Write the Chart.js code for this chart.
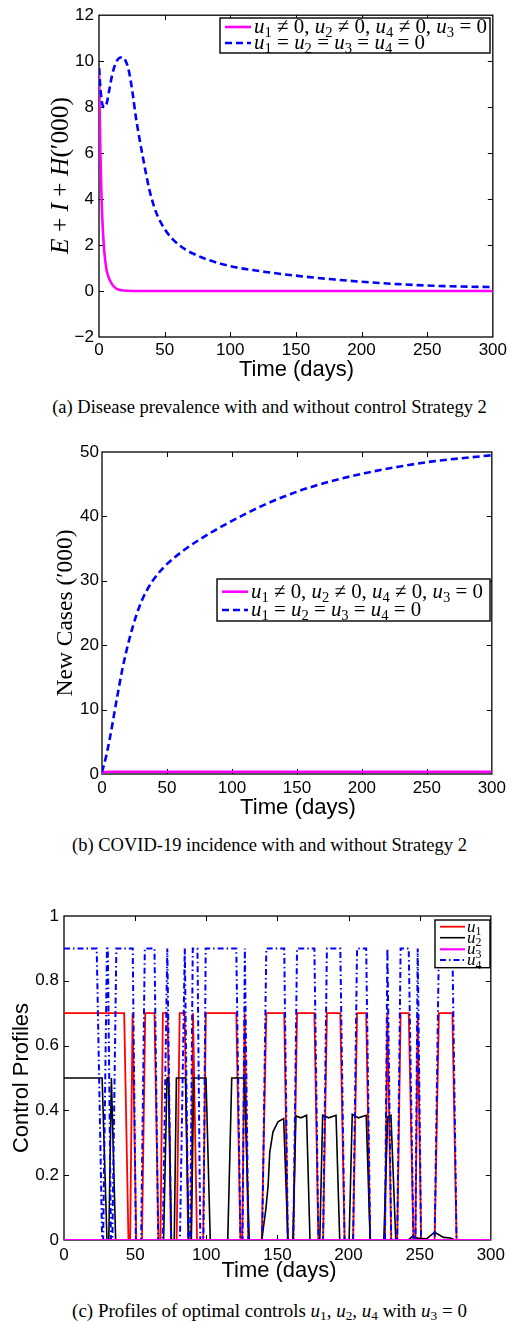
<!DOCTYPE html>
<html><head><meta charset="utf-8">
<script src="https://cdn.jsdelivr.net/npm/chart.js@4.4.1/dist/chart.umd.min.js"></script>
<style>
html,body{margin:0;padding:0;background:#fff;}
body{width:510px;height:1322px;position:relative;overflow:hidden;}
canvas{position:absolute;left:0;}
.cap{position:absolute;white-space:nowrap;font-family:"Liberation Serif","Times New Roman",Times,serif;color:#000;line-height:1;}
.cap sub{font-size:70%;vertical-align:-0.25em;line-height:0;}
</style></head><body>
<canvas id="c1" width="510" height="390" style="top:0px"></canvas>
<canvas id="c2" width="510" height="410" style="top:420px"></canvas>
<canvas id="c3" width="510" height="430" style="top:860px"></canvas>
<div class="cap" id="capA">(a) Disease prevalence with and without control Strategy 2</div>
<div class="cap" id="capB">(b) COVID-19 incidence with and without Strategy 2</div>
<div class="cap" id="capC">(c) Profiles of optimal controls <i>u</i><sub>1</sub>, <i>u</i><sub>2</sub>, <i>u</i><sub>4</sub> with <i>u</i><sub>3</sub> = 0</div>
<script>
// ---------------- DATA ----------------
// (a) prevalence E+I+H ('000)
const tA_ctrl  = [0,1,2,3,4,5,6,8,10,12,14,17,22,30,60,100,150,200,250,300];
const prevCtrl = [9.7,6.2,3.9,2.6,1.75,1.2,0.85,0.5,0.29,0.16,0.08,0.03,0.01,0,0,0,0,0,0,0];
const tA_none  = [0,1,2,3,4.5,6,8,10,12,14,16,18,20,22,24,26,28,30,33,36,38,40,43,46,50,55,60,66,72,82,102,127,153,178,203,228,254,300];
const prevNone = [9.7,8.9,8.3,8.05,8.0,8.2,8.8,9.4,9.8,10.05,10.15,10.17,10.05,9.75,9.2,8.45,7.6,6.9,5.95,5.05,4.5,4.05,3.5,3.1,2.7,2.32,2.05,1.8,1.62,1.38,1.06,0.83,0.65,0.51,0.39,0.30,0.23,0.17];
// (b) new cases ('000)
const tB_ctrl   = [0,2,5,10,50,100,150,200,250,300];
const casesCtrl = [0.2,0.3,0.34,0.35,0.36,0.36,0.36,0.36,0.36,0.36];
const tB_none   = [0,3,6,11,16,21,26,31,39,49,62,75,87.5,100,126,151,177,202,228,253,300];
const casesNone = [0.3,2.6,5.5,11.2,16.6,20.9,24.4,27.1,30.0,32.4,34.6,36.4,37.9,39.3,41.9,43.9,45.5,46.7,47.7,48.5,49.5];
// (c) control profiles [t, value]
const u1Pts = [[0,0.7],[42.3,0.7],[45.3,0],[46.5,0],[48.2,0.7],[50.8,0],[54.8,0],[57.1,0.7],[63.6,0.7],[66.4,0],[67.8,0],[69.5,0.7],[72.8,0.7],[75.2,0],[79.2,0],[81.3,0.7],[84.8,0.7],[87.3,0],[89.3,0],[90.7,0.7],[93.5,0],[97.8,0],[99.7,0.7],[121.1,0.7],[124,0],[125.3,0],[127,0.7],[129.5,0],[139,0],[142.2,0.7],[154.8,0.7],[157.3,0],[161.2,0],[163.8,0.7],[176,0.7],[178.8,0],[182.1,0],[184.8,0.7],[194.2,0.7],[197.2,0],[203.2,0],[206,0.7],[212.4,0.7],[215.2,0],[225.6,0],[227.3,0.7],[230,0],[234.2,0],[236.6,0.7],[242.3,0.7],[245.6,0],[247,0],[248.6,0.7],[251,0],[260.5,0],[263.5,0.7],[273,0.7],[275.9,0],[300,0]];
const u2Pts = [[0,0.5],[26.8,0.5],[30.2,0],[31.5,0],[33.3,0.5],[36.3,0],[70,0],[72.4,0.5],[73.5,0.5],[75.5,0],[77.5,0],[79,0.5],[85.4,0.5],[87.7,0],[89.5,0],[91.2,0.5],[99.8,0.5],[102.8,0],[115.1,0],[117.9,0.5],[126.7,0.5],[130.2,0],[139,0],[142,0.1],[143.5,0.17],[144.6,0.27],[146.9,0.334],[150.4,0.365],[154.4,0.375],[157.4,0],[160.9,0],[163,0.383],[166.5,0.377],[170.5,0.385],[172.9,0],[179.8,0],[181.8,0.385],[186,0.377],[191.2,0.385],[193.8,0],[200.4,0],[202.6,0.388],[207,0.377],[212.4,0.385],[215.2,0],[224.8,0],[227.5,0.38],[229.8,0.385],[233.2,0],[242,0],[245.3,0.013],[248.7,0.005],[255,0.004],[260.5,0.024],[266.8,0.008],[271.4,0.006],[275,0],[300,0]];
const u3Pts = [[0,0],[300,0]];
const u4Pts = [[0,0.9],[23,0.9],[26.8,0],[27.5,0],[30.2,0.9],[30.8,0.9],[33,0],[34,0],[36.8,0.9],[48.3,0.9],[50.5,0],[54.2,0],[56.8,0.9],[63.6,0.9],[66.2,0],[69.4,0],[72.6,0.9],[75.3,0],[81.5,0],[84.9,0.9],[87.4,0],[88.7,0],[90.5,0.9],[93.8,0.9],[95.8,0],[98,0],[99.6,0.9],[121.1,0.9],[124,0],[125.5,0],[127.1,0.9],[129.6,0],[139.3,0],[142.2,0.9],[154.8,0.9],[157.3,0],[161.2,0],[163.8,0.9],[176,0.9],[178.8,0],[182.1,0],[184.8,0.9],[194.2,0.9],[197.2,0],[203.2,0],[206,0.9],[212.4,0.9],[215.2,0],[225.6,0],[227.3,0.9],[230,0],[234.2,0],[236.6,0.9],[242.3,0.9],[245.6,0],[247,0],[248.6,0.9],[251,0],[260.5,0],[263.5,0.9],[273,0.9],[275.9,0],[300,0]];
// labels
const seriesAB = ['u1 ≠ 0, u2 ≠ 0, u4 ≠ 0, u3 = 0', 'u1 = u2 = u3 = u4 = 0'];
const seriesC  = ['u1','u2','u3','u4'];
const xTitle = 'Time (days)';
const yTitleA = 'E + I + H(′000)';
const yTitleB = 'New Cases (′000)';
const yTitleC = 'Control Profiles';
const xTicks = {min:0, max:300, step:50};
const yTicksA = {min:-2, max:12, step:2};
const yTicksB = {min:0, max:50, step:10};
const yTicksC = {min:0, max:1, step:0.2};

// ---------------- HELPERS ----------------
const SANS = '"Liberation Sans", Arial, Helvetica, sans-serif';
const SERIF = '"Liberation Serif", "Times New Roman", Times, serif';
Chart.defaults.font.family = SANS;
Chart.defaults.color = '#000';

const pts = (ts, vs) => ts.map((t,i) => ({x:t, y:vs[i]}));
const pairs = a => a.map(([t,v]) => ({x:t, y:v}));

function parseMath(s, math) {
  if (!math) return [{t:s}];
  const parts = []; let buf = '';
  const flush = () => { if (buf) { parts.push({t:buf}); buf=''; } };
  for (let i=0;i<s.length;i++) {
    const c = s[i];
    if (/[A-Za-z]/.test(c)) {
      flush(); parts.push({t:c, it:true});
      if (/[0-9]/.test(s[i+1]||'')) { parts.push({t:s[i+1], sub:true}); i++; }
    } else buf += c;
  }
  flush(); return parts;
}
function fontOf(p, size, fam) {
  const s = p.sub ? size*0.7 : size;
  return (p.it ? 'italic ' : '') + s.toFixed(2) + 'px ' + fam;
}
function richWidth(ctx, parts, size, fam) {
  let w = 0;
  for (const p of parts) { ctx.font = fontOf(p,size,fam); w += ctx.measureText(p.t).width; }
  return w;
}
function drawRich(ctx, parts, x, y, size, fam, align) {
  const w = richWidth(ctx, parts, size, fam);
  let cx = align === 'center' ? x - w/2 : x;
  ctx.textBaseline = 'alphabetic'; ctx.textAlign = 'left';
  for (const p of parts) {
    ctx.font = fontOf(p,size,fam);
    ctx.fillText(p.t, cx, y + (p.sub ? size*0.2 : 0));
    cx += ctx.measureText(p.t).width;
  }
}

function decoPlugin(cfg) {
  return {
    id: 'deco',
    beforeDatasetsDraw(chart) {
      const {ctx, chartArea:a} = chart;
      const xs = chart.scales.x, ys = chart.scales.y;
      ctx.save();
      ctx.strokeStyle = '#000'; ctx.lineWidth = 1; ctx.setLineDash([]);
      ctx.beginPath();
      xs.ticks.forEach(t => {
        const p = Math.round(xs.getPixelForValue(t.value)) + 0.5;
        if (p <= a.left + 2 || p >= a.right - 2) return;
        ctx.moveTo(p, a.bottom); ctx.lineTo(p, a.bottom - 5);
        ctx.moveTo(p, a.top); ctx.lineTo(p, a.top + 5);
      });
      ys.ticks.forEach(t => {
        const p = Math.round(ys.getPixelForValue(t.value)) + 0.5;
        if (p <= a.top + 2 || p >= a.bottom - 2) return;
        ctx.moveTo(a.left, p); ctx.lineTo(a.left + 5, p);
        ctx.moveTo(a.right, p); ctx.lineTo(a.right - 5, p);
      });
      ctx.stroke();
      ctx.lineWidth = 1.3;
      ctx.strokeRect(a.left, a.top, a.right - a.left, a.bottom - a.top);
      ctx.restore();
    },
    afterDraw(chart) {
      const {ctx} = chart;
      ctx.save();
      const L = cfg.legend;
      if (L) {
        const ds = chart.data.datasets;
        const items = L.order.map(i => ds[i]);
        ctx.fillStyle = '#fff';
        ctx.fillRect(L.x0, L.y0, L.x1 - L.x0, L.y1 - L.y0);
        ctx.strokeStyle = '#000'; ctx.lineWidth = 1.4; ctx.setLineDash([]);
        ctx.strokeRect(L.x0, L.y0, L.x1 - L.x0, L.y1 - L.y0);
        let size = L.size;
        if (L.fitW) size = 20 * L.fitW / richWidth(ctx, parseMath(items[0].label, true), 20, SERIF);
        items.forEach((d, k) => {
          const y = L.rows[k];
          ctx.strokeStyle = d.borderColor; ctx.lineWidth = d.borderWidth;
          ctx.setLineDash(d.borderDash || []);
          ctx.beginPath(); ctx.moveTo(L.sx0, y); ctx.lineTo(L.sx1, y); ctx.stroke();
          ctx.setLineDash([]);
          ctx.fillStyle = '#000';
          drawRich(ctx, parseMath(d.label, true), L.tx, y + size*0.3, size, SERIF, 'left');
        });
      }
      (cfg.titles || []).forEach(T => {
        ctx.save();
        ctx.fillStyle = '#000';
        const parts = parseMath(T.text, T.math);
        const size = 20 * T.w / richWidth(ctx, parts, 20, T.fam);
        ctx.translate(T.x, T.y);
        if (T.rot) ctx.rotate(-Math.PI/2);
        drawRich(ctx, parts, 0, 0, size, T.fam, 'center');
        ctx.restore();
      });
      ctx.restore();
    }
  };
}

function baseOptions(o) {
  return {
    responsive: false, animation: false,
    layout: {padding: {top: o.top, right: o.right, left: 0, bottom: 0}},
    plugins: {legend: {display: false}, tooltip: {enabled: false}},
    elements: {point: {radius: 0}, line: {fill: false}},
    scales: {
      x: {type: 'linear', min: xTicks.min, max: xTicks.max,
          ticks: {stepSize: xTicks.step, padding: o.xPad, font: {size: 17}, color: '#000', maxRotation: 0, autoSkip: false},
          grid: {display: false, drawTicks: false}, border: {display: false},
          afterFit(s) { s.height = o.xH; }},
      y: {type: 'linear', min: o.yt.min, max: o.yt.max,
          ticks: {stepSize: o.yt.step, padding: o.yPad, font: {size: 17}, color: '#000', autoSkip: false,
                  callback: v => { const n = Math.round(v*10)/10; return n < 0 ? '−' + Math.abs(n) : String(n); }},
          grid: {display: false, drawTicks: false}, border: {display: false},
          afterFit(s) { s.width = o.yW; }}
    }
  };
}

// ---------------- CHART (a) ----------------
new Chart(document.getElementById('c1'), {
  type: 'line',
  data: {datasets: [
    {label: seriesAB[0], data: pts(tA_ctrl, prevCtrl), borderColor: '#ff00ff', borderWidth: 2.6, cubicInterpolationMode: 'monotone', order: 2},
    {label: seriesAB[1], data: pts(tA_none, prevNone), borderColor: '#0000ff', borderWidth: 2.6, borderDash: [7,4], cubicInterpolationMode: 'monotone', order: 1}
  ]},
  options: baseOptions({top: 14, right: 16, yW: 99, xH: 53, xPad: 3, yPad: 5, yt: yTicksA}),
  plugins: [decoPlugin({
    legend: {x0: 220, y0: 18, x1: 490, y1: 53, rows: [27, 43], sx0: 225, sx1: 251, tx: 254, fitW: 233, order: [0,1]},
    titles: [
      {text: xTitle, x: 296.5, y: 376, w: 115, fam: SANS},
      {text: yTitleA, x: 68, y: 175.5, w: 157, fam: SERIF, math: true, rot: true}
    ]
  })]
});

// ---------------- CHART (b) ----------------
new Chart(document.getElementById('c2'), {
  type: 'line',
  data: {datasets: [
    {label: seriesAB[0], data: pts(tB_ctrl, casesCtrl), borderColor: '#ff00ff', borderWidth: 2.6, cubicInterpolationMode: 'monotone', order: 2},
    {label: seriesAB[1], data: pts(tB_none, casesNone), borderColor: '#0000ff', borderWidth: 2.6, borderDash: [7,4], cubicInterpolationMode: 'monotone', order: 1}
  ]},
  options: baseOptions({top: 32, right: 16, yW: 102, xH: 56, xPad: 4, yPad: 3, yt: yTicksB}),
  plugins: [decoPlugin({
    legend: {x0: 217, y0: 159, x1: 490, y1: 201, rows: [171.7, 190], sx0: 222, sx1: 248, tx: 251, fitW: 232, order: [0,1]},
    titles: [
      {text: xTitle, x: 298, y: 394.3, w: 116, fam: SANS},
      {text: yTitleB, x: 71.5, y: 193, w: 167, fam: SERIF, rot: true}
    ]
  })]
});

// ---------------- CHART (c) ----------------
new Chart(document.getElementById('c3'), {
  type: 'line',
  data: {datasets: [
    {label: seriesC[0], data: pairs(u1Pts), borderColor: '#ff0000', borderWidth: 1.8, order: 4},
    {label: seriesC[1], data: pairs(u2Pts), borderColor: '#000000', borderWidth: 1.6, order: 3},
    {label: seriesC[2], data: pairs(u3Pts), borderColor: '#ff00ff', borderWidth: 2.2, order: 0},
    {label: seriesC[3], data: pairs(u4Pts), borderColor: '#0000ff', borderWidth: 2, borderDash: [6,3,1.5,3], order: 1}
  ]},
  options: baseOptions({top: 56, right: 16, yW: 64, xH: 50, xPad: 5, yPad: 5, yt: yTicksC}),
  plugins: [decoPlugin({
    legend: {x0: 435, y0: 60, x1: 490, y1: 107.7, rows: [66.7, 77.7, 89.3, 100], sx0: 440, sx1: 465, tx: 467, size: 17, order: [0,1,2,3]},
    titles: [
      {text: xTitle, x: 279, y: 416.7, w: 115, fam: SANS},
      {text: yTitleC, x: 28, y: 218, w: 150, fam: SANS, rot: true}
    ]
  })]
});

// ---------------- CAPTIONS ----------------
function fitCap(id, left, right, cy) {
  const el = document.getElementById(id);
  el.style.fontSize = '20px';
  const w = el.getBoundingClientRect().width;
  const fs = 20 * (right - left) / w;
  el.style.fontSize = fs + 'px';
  const r = el.getBoundingClientRect();
  el.style.left = (left + (right - left - r.width) / 2) + 'px';
  el.style.top = (cy - r.height / 2) + 'px';
}
fitCap('capA', 52, 487, 407);
fitCap('capB', 72, 467, 845);
fitCap('capC', 72, 467, 1311);
</script>
</body></html>
